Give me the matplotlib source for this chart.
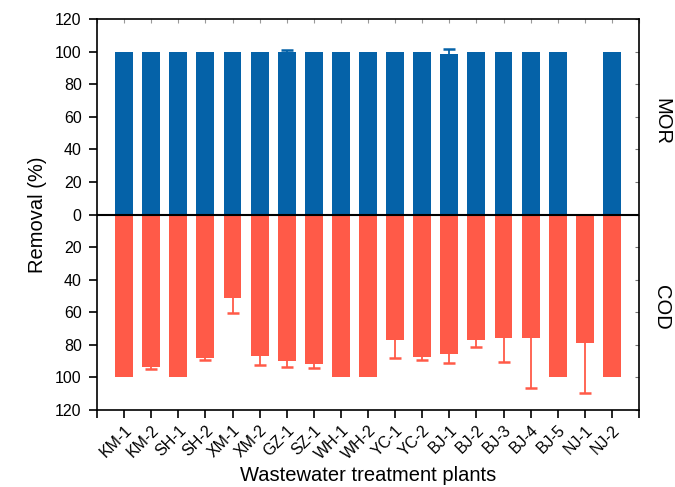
import numpy as np
import matplotlib
matplotlib.use("Agg")
import matplotlib.pyplot as plt
from matplotlib.ticker import FuncFormatter, FixedLocator, NullFormatter
import matplotlib.transforms as mtransforms

plants = ["KM-1", "KM-2", "SH-1", "SH-2", "XM-1", "XM-2", "GZ-1", "SZ-1",
          "WH-1", "WH-2", "YC-1", "YC-2", "BJ-1", "BJ-2", "BJ-3", "BJ-4",
          "BJ-5", "NJ-1", "NJ-2"]

# MOR removal (%) and standard deviation
mor = [100, 100, 100, 100, 100, 100, 100, 100, 100, 100, 100, 100,
       98.6, 100, 100, 100, 100, np.nan, 100]
mor_err = [0, 0, 0, 0, 0, 0, 1.1, 0, 0, 0, 0, 0,
           3.0, 0, 0, 0, 0, 0, 0]

# COD removal (%) and standard deviation
cod = [100, 93.3, 100, 88.1, 51.5, 86.8, 89.8, 91.5, 100, 100, 76.7, 87.2,
       85.7, 76.9, 76.0, 76.0, 100, 79.0, 100]
cod_err = [0, 1.4, 0, 0.9, 9.0, 5.3, 3.5, 2.5, 0, 0, 11.5, 2.2,
           5.4, 4.7, 14.6, 30.3, 0, 30.3, 0]

blue = "#0562A8"
red = "#FF5A48"

plt.rcParams["font.family"] = ["Liberation Sans", "DejaVu Sans"]

fig = plt.figure(figsize=(6.75, 4.87), dpi=100)
ax = fig.add_axes([0.1437, 0.158, 0.8030, 0.803])

x = np.arange(1, len(plants) + 1)
mor_arr = np.array(mor, dtype=float)
cod_arr = -np.array(cod, dtype=float)
w = 0.66

ax.bar(x, mor_arr, width=w, color=blue, zorder=2)
ax.bar(x, cod_arr, width=w, color=red, zorder=2)


def one_sided_err(xs, base, err, color):
    """Error bar drawn from the bar end outward, capped only at the tip."""
    m = err > 0
    tips = base[m] + np.sign(base[m]) * err[m]
    ax.vlines(xs[m], base[m], tips, colors=color, lw=1.3, zorder=3)
    ax.plot(xs[m], tips, ls="none", marker="_", ms=9, mew=1.8,
            color=color, zorder=3)


one_sided_err(x, mor_arr, np.array(mor_err, dtype=float), blue)
one_sided_err(x, cod_arr, np.array(cod_err, dtype=float), red)

ax.axhline(0, color="black", lw=1.5, zorder=4)

ax.set_xlim(0, len(plants) + 1)
ax.set_ylim(-120, 120)

yt = np.arange(-120, 121, 20)
xt = np.arange(0, len(plants) + 2)
ax.yaxis.set_major_locator(FixedLocator(yt))
ax.yaxis.set_major_formatter(FuncFormatter(lambda v, p: f"{abs(v):.0f}"))
ax.xaxis.set_major_locator(FixedLocator(xt))
ax.set_xticklabels([""] + plants + [""], rotation=45, ha="right",
                   rotation_mode="anchor", fontsize=11.5)
ax.tick_params(axis="y", labelsize=11.5, pad=5)
ax.tick_params(axis="both", which="major", direction="out", length=6, width=1.2,
               top=False, right=False)
ax.tick_params(axis="x", pad=3)

# inward minor marks along the top and right frame
top = ax.secondary_xaxis("top")
top.xaxis.set_major_locator(FixedLocator(xt))
top.xaxis.set_major_formatter(NullFormatter())
top.tick_params(direction="in", length=3, width=0.8, color="#999999")
right = ax.secondary_yaxis("right")
right.yaxis.set_major_locator(FixedLocator(yt))
right.yaxis.set_major_formatter(NullFormatter())
right.tick_params(direction="in", length=3, width=0.8, color="#777777")
for sec in (top, right):
    for s in sec.spines.values():
        s.set_visible(False)

for s in ax.spines.values():
    s.set_linewidth(1.2)

ax.set_ylabel("Removal (%)", fontsize=14.5, labelpad=6)
ax.set_xlabel("Wastewater treatment plants", fontsize=14.5, labelpad=3)

trans = mtransforms.blended_transform_factory(ax.transAxes, ax.transData)
ax.text(1.042, 57, "MOR", transform=trans, rotation=-90, fontsize=14.5,
        ha="center", va="center")
ax.text(1.042, -57, "COD", transform=trans, rotation=-90, fontsize=14.5,
        ha="center", va="center")

fig.savefig("out.png", dpi=100)
